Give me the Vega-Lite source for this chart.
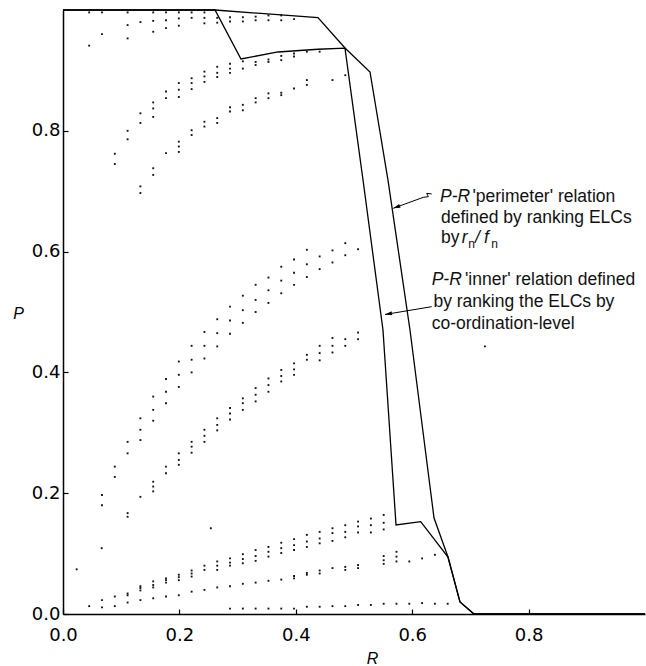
{
  "$schema": "https://vega.github.io/schema/vega-lite/v6.json",
  "width": 582,
  "height": 604,
  "autosize": {"type": "none"},
  "padding": {"left": 63, "top": 10, "right": 1, "bottom": 52},
  "background": "white",
  "config": {
    "view": {"stroke": null},
    "axis": {"grid": false, "domainColor": "#000", "tickColor": "#000", "labelColor": "#000", "titleColor": "#000", "domainWidth": 1.5, "tickWidth": 1.2}
  },
  "datasets": {
    "dots": [
      {"R":0.045,"P":0.996},{"R":0.045,"P":0.941},{"R":0.067,"P":0.996},{"R":0.067,"P":0.960},{"R":0.111,"P":0.996},{"R":0.111,"P":0.975},{"R":0.111,"P":0.953},{"R":0.133,"P":0.980},{"R":0.155,"P":0.996},{"R":0.155,"P":0.982},{"R":0.155,"P":0.964},{"R":0.177,"P":0.996},{"R":0.177,"P":0.983},{"R":0.177,"P":0.970},{"R":0.199,"P":0.996},{"R":0.199,"P":0.986},{"R":0.199,"P":0.974},{"R":0.221,"P":0.996},{"R":0.221,"P":0.987},{"R":0.243,"P":0.996},{"R":0.243,"P":0.987},{"R":0.243,"P":0.978},{"R":0.265,"P":0.987},{"R":0.265,"P":0.979},{"R":0.287,"P":0.988},{"R":0.287,"P":0.981},{"R":0.309,"P":0.988},{"R":0.309,"P":0.981},{"R":0.331,"P":0.989},{"R":0.331,"P":0.983},{"R":0.353,"P":0.991},{"R":0.353,"P":0.983},{"R":0.375,"P":0.991},{"R":0.375,"P":0.983},{"R":0.397,"P":0.985},
      {"R":0.089,"P":0.762},{"R":0.089,"P":0.745},{"R":0.111,"P":0.800},{"R":0.111,"P":0.786},{"R":0.133,"P":0.829},{"R":0.133,"P":0.813},{"R":0.155,"P":0.847},{"R":0.155,"P":0.837},{"R":0.155,"P":0.823},{"R":0.177,"P":0.865},{"R":0.177,"P":0.854},{"R":0.199,"P":0.879},{"R":0.199,"P":0.868},{"R":0.199,"P":0.856},{"R":0.221,"P":0.887},{"R":0.221,"P":0.879},{"R":0.221,"P":0.869},{"R":0.243,"P":0.898},{"R":0.243,"P":0.890},{"R":0.243,"P":0.881},{"R":0.265,"P":0.906},{"R":0.265,"P":0.896},{"R":0.265,"P":0.889},{"R":0.287,"P":0.911},{"R":0.287,"P":0.903},{"R":0.287,"P":0.896},{"R":0.309,"P":0.915},{"R":0.309,"P":0.903},{"R":0.331,"P":0.914},{"R":0.331,"P":0.909},{"R":0.353,"P":0.918},{"R":0.353,"P":0.914},{"R":0.375,"P":0.924},{"R":0.375,"P":0.917},{"R":0.397,"P":0.928},{"R":0.397,"P":0.923},{"R":0.419,"P":0.931},{"R":0.441,"P":0.931},
      {"R":0.133,"P":0.708},{"R":0.133,"P":0.697},{"R":0.155,"P":0.738},{"R":0.155,"P":0.727},{"R":0.177,"P":0.763},{"R":0.199,"P":0.782},{"R":0.199,"P":0.774},{"R":0.199,"P":0.765},{"R":0.221,"P":0.801},{"R":0.221,"P":0.793},{"R":0.243,"P":0.815},{"R":0.243,"P":0.807},{"R":0.265,"P":0.821},{"R":0.265,"P":0.813},{"R":0.287,"P":0.839},{"R":0.287,"P":0.832},{"R":0.309,"P":0.843},{"R":0.309,"P":0.834},{"R":0.331,"P":0.854},{"R":0.331,"P":0.847},{"R":0.353,"P":0.862},{"R":0.353,"P":0.854},{"R":0.375,"P":0.863},{"R":0.375,"P":0.859},{"R":0.397,"P":0.870},{"R":0.419,"P":0.884},{"R":0.419,"P":0.876},{"R":0.463,"P":0.884},{"R":0.485,"P":0.892},
      {"R":0.067,"P":0.197},{"R":0.067,"P":0.180},{"R":0.089,"P":0.244},{"R":0.089,"P":0.227},{"R":0.111,"P":0.285},{"R":0.111,"P":0.266},{"R":0.133,"P":0.324},{"R":0.133,"P":0.305},{"R":0.133,"P":0.288},{"R":0.155,"P":0.360},{"R":0.155,"P":0.338},{"R":0.155,"P":0.320},{"R":0.177,"P":0.389},{"R":0.177,"P":0.368},{"R":0.177,"P":0.349},{"R":0.199,"P":0.418},{"R":0.199,"P":0.396},{"R":0.199,"P":0.376},{"R":0.221,"P":0.444},{"R":0.221,"P":0.421},{"R":0.221,"P":0.400},{"R":0.243,"P":0.467},{"R":0.243,"P":0.444},{"R":0.243,"P":0.423},{"R":0.265,"P":0.488},{"R":0.265,"P":0.465},{"R":0.265,"P":0.443},{"R":0.287,"P":0.509},{"R":0.287,"P":0.486},{"R":0.287,"P":0.464},{"R":0.309,"P":0.527},{"R":0.309,"P":0.503},{"R":0.309,"P":0.482},{"R":0.331,"P":0.545},{"R":0.331,"P":0.520},{"R":0.331,"P":0.500},{"R":0.353,"P":0.557},{"R":0.353,"P":0.536},{"R":0.353,"P":0.515},{"R":0.375,"P":0.575},{"R":0.375,"P":0.552},{"R":0.375,"P":0.531},{"R":0.397,"P":0.587},{"R":0.397,"P":0.565},{"R":0.397,"P":0.545},{"R":0.419,"P":0.603},{"R":0.419,"P":0.579},{"R":0.419,"P":0.558},{"R":0.441,"P":0.592},{"R":0.441,"P":0.571},{"R":0.463,"P":0.602},{"R":0.463,"P":0.582},{"R":0.485,"P":0.614},{"R":0.485,"P":0.594},{"R":0.507,"P":0.604},
      {"R":0.111,"P":0.167},{"R":0.111,"P":0.161},{"R":0.133,"P":0.194},{"R":0.155,"P":0.219},{"R":0.155,"P":0.211},{"R":0.155,"P":0.203},{"R":0.177,"P":0.244},{"R":0.177,"P":0.233},{"R":0.199,"P":0.266},{"R":0.199,"P":0.255},{"R":0.199,"P":0.247},{"R":0.221,"P":0.285},{"R":0.221,"P":0.277},{"R":0.221,"P":0.267},{"R":0.243,"P":0.305},{"R":0.243,"P":0.295},{"R":0.243,"P":0.285},{"R":0.265,"P":0.324},{"R":0.265,"P":0.313},{"R":0.265,"P":0.304},{"R":0.287,"P":0.341},{"R":0.287,"P":0.332},{"R":0.287,"P":0.322},{"R":0.309,"P":0.357},{"R":0.309,"P":0.349},{"R":0.309,"P":0.338},{"R":0.331,"P":0.374},{"R":0.331,"P":0.363},{"R":0.331,"P":0.352},{"R":0.353,"P":0.390},{"R":0.353,"P":0.379},{"R":0.353,"P":0.368},{"R":0.375,"P":0.404},{"R":0.375,"P":0.394},{"R":0.375,"P":0.385},{"R":0.397,"P":0.415},{"R":0.397,"P":0.405},{"R":0.397,"P":0.396},{"R":0.419,"P":0.429},{"R":0.419,"P":0.421},{"R":0.441,"P":0.444},{"R":0.441,"P":0.432},{"R":0.441,"P":0.420},{"R":0.463,"P":0.457},{"R":0.463,"P":0.444},{"R":0.463,"P":0.433},{"R":0.485,"P":0.455},{"R":0.485,"P":0.444},{"R":0.507,"P":0.466},{"R":0.507,"P":0.455},
      {"R":0.067,"P":0.023},{"R":0.089,"P":0.029},{"R":0.111,"P":0.034},{"R":0.111,"P":0.031},{"R":0.133,"P":0.046},{"R":0.133,"P":0.043},{"R":0.133,"P":0.039},{"R":0.155,"P":0.054},{"R":0.155,"P":0.048},{"R":0.155,"P":0.044},{"R":0.177,"P":0.059},{"R":0.177,"P":0.056},{"R":0.177,"P":0.052},{"R":0.199,"P":0.065},{"R":0.199,"P":0.061},{"R":0.199,"P":0.056},{"R":0.221,"P":0.072},{"R":0.221,"P":0.067},{"R":0.221,"P":0.062},{"R":0.243,"P":0.080},{"R":0.243,"P":0.073},{"R":0.265,"P":0.087},{"R":0.265,"P":0.080},{"R":0.265,"P":0.073},{"R":0.287,"P":0.092},{"R":0.287,"P":0.085},{"R":0.287,"P":0.080},{"R":0.309,"P":0.099},{"R":0.309,"P":0.091},{"R":0.309,"P":0.084},{"R":0.331,"P":0.106},{"R":0.331,"P":0.096},{"R":0.331,"P":0.088},{"R":0.353,"P":0.111},{"R":0.353,"P":0.103},{"R":0.353,"P":0.095},{"R":0.375,"P":0.118},{"R":0.375,"P":0.109},{"R":0.375,"P":0.101},{"R":0.397,"P":0.124},{"R":0.397,"P":0.114},{"R":0.397,"P":0.106},{"R":0.419,"P":0.131},{"R":0.419,"P":0.120},{"R":0.419,"P":0.111},{"R":0.441,"P":0.136},{"R":0.441,"P":0.125},{"R":0.441,"P":0.117},{"R":0.463,"P":0.142},{"R":0.463,"P":0.134},{"R":0.463,"P":0.121},{"R":0.485,"P":0.147},{"R":0.485,"P":0.136},{"R":0.485,"P":0.127},{"R":0.507,"P":0.153},{"R":0.507,"P":0.145},{"R":0.507,"P":0.135},{"R":0.529,"P":0.158},{"R":0.529,"P":0.147},{"R":0.529,"P":0.135},{"R":0.551,"P":0.164},{"R":0.551,"P":0.151},{"R":0.551,"P":0.140},
      {"R":0.045,"P":0.013},{"R":0.067,"P":0.011},{"R":0.089,"P":0.013},{"R":0.111,"P":0.019},{"R":0.133,"P":0.023},{"R":0.155,"P":0.026},{"R":0.177,"P":0.029},{"R":0.199,"P":0.031},{"R":0.221,"P":0.037},{"R":0.243,"P":0.040},{"R":0.265,"P":0.044},{"R":0.287,"P":0.046},{"R":0.309,"P":0.050},{"R":0.331,"P":0.052},{"R":0.353,"P":0.055},{"R":0.375,"P":0.057},{"R":0.397,"P":0.063},{"R":0.397,"P":0.059},{"R":0.419,"P":0.068},{"R":0.419,"P":0.065},{"R":0.441,"P":0.072},{"R":0.441,"P":0.067},{"R":0.463,"P":0.076},{"R":0.485,"P":0.078},{"R":0.485,"P":0.073},{"R":0.507,"P":0.081},{"R":0.507,"P":0.076},{"R":0.551,"P":0.096},{"R":0.551,"P":0.089},{"R":0.551,"P":0.083},{"R":0.573,"P":0.103},{"R":0.573,"P":0.095},{"R":0.573,"P":0.087},{"R":0.595,"P":0.087},{"R":0.617,"P":0.092},{"R":0.639,"P":0.098},
      {"R":0.287,"P":0.009},{"R":0.309,"P":0.009},{"R":0.331,"P":0.009},{"R":0.353,"P":0.009},{"R":0.375,"P":0.009},{"R":0.397,"P":0.009},{"R":0.419,"P":0.012},{"R":0.441,"P":0.012},{"R":0.463,"P":0.013},{"R":0.485,"P":0.013},{"R":0.507,"P":0.015},{"R":0.529,"P":0.015},{"R":0.551,"P":0.017},{"R":0.573,"P":0.017},{"R":0.595,"P":0.017},{"R":0.617,"P":0.018},{"R":0.639,"P":0.017},{"R":0.661,"P":0.017},
      {"R":0.0235,"P":0.074},{"R":0.0665,"P":0.109},{"R":0.254,"P":0.142},{"R":0.725,"P":0.443}
    ],
    "curves": [
      {"s":"perimeter","o":1,"R":0,"P":1},{"s":"perimeter","o":2,"R":0.2612,"P":1},{"s":"perimeter","o":3,"R":0.4381,"P":0.9873},{"s":"perimeter","o":4,"R":0.4845,"P":0.937},{"s":"perimeter","o":5,"R":0.5275,"P":0.8974},{"s":"perimeter","o":6,"R":0.5584,"P":0.7185},{"s":"perimeter","o":7,"R":0.5962,"P":0.4702},{"s":"perimeter","o":8,"R":0.6375,"P":0.1589},{"s":"perimeter","o":9,"R":0.6615,"P":0.0944},{"s":"perimeter","o":10,"R":0.6821,"P":0.0199},{"s":"perimeter","o":11,"R":0.7062,"P":0},{"s":"perimeter","o":12,"R":1,"P":0},
      {"s":"inner","o":1,"R":0,"P":1},{"s":"inner","o":2,"R":0.2612,"P":1},{"s":"inner","o":3,"R":0.3058,"P":0.9189},{"s":"inner","o":4,"R":0.3694,"P":0.9305},{"s":"inner","o":5,"R":0.4381,"P":0.935},{"s":"inner","o":6,"R":0.4845,"P":0.937},{"s":"inner","o":7,"R":0.5155,"P":0.7185},{"s":"inner","o":8,"R":0.5498,"P":0.4702},{"s":"inner","o":9,"R":0.5722,"P":0.1474},{"s":"inner","o":10,"R":0.6146,"P":0.1528},{"s":"inner","o":11,"R":0.6615,"P":0.0944},{"s":"inner","o":12,"R":0.6821,"P":0.0199},{"s":"inner","o":13,"R":0.7062,"P":0},{"s":"inner","o":14,"R":1,"P":0}
    ],
    "arrows": [
      {"s":"a","o":1,"R":0.6335,"P":0.6954},{"s":"a","o":2,"R":0.6249,"P":0.6965},{"s":"a","o":3,"R":0.6277,"P":0.6909},{"s":"a","o":4,"R":0.6191,"P":0.6899},{"s":"a","o":5,"R":0.5675,"P":0.6717},
      {"s":"b","o":1,"R":0.6335,"P":0.5088},{"s":"b","o":2,"R":0.5533,"P":0.4959}
    ],
    "normalText": [
      {"R":0.7035,"P":0.6829,"t":"'perimeter' relation"},
      {"R":0.6495,"P":0.6470,"t":"defined by ranking ELCs"},
      {"R":0.6495,"P":0.6139,"t":"by"},
      {"R":0.6907,"P":0.5447,"t":"'inner' relation defined"},
      {"R":0.6365,"P":0.5083,"t":"by ranking the ELCs by"},
      {"R":0.6335,"P":0.4719,"t":"co-ordination-level"}
    ],
    "italicText": [
      {"R":0.6478,"P":0.6829,"t":"P-R"},
      {"R":0.685,"P":0.6139,"t":"r"},
      {"R":0.7079,"P":0.6139,"t":"/"},
      {"R":0.7232,"P":0.6139,"t":"f"},
      {"R":0.6335,"P":0.5447,"t":"P-R"}
    ],
    "subText": [
      {"R":0.6964,"P":0.6065,"t":"n"},
      {"R":0.7358,"P":0.6065,"t":"n"}
    ]
  },
  "encoding": {
    "x": {"field": "R", "type": "quantitative", "scale": {"domain": [0, 1], "nice": false, "zero": false},
      "axis": {"values": [0, 0.2, 0.4, 0.6, 0.8], "format": ".1f", "tickSize": -5, "labelPadding": 17, "labelFont": "DejaVu Sans", "labelFontSize": 18, "labelFlush": false, "labelOverlap": false, "labelBound": false,
        "title": "R", "titleFont": "Liberation Sans", "titleFontStyle": "italic", "titleFontWeight": "normal", "titleFontSize": 16, "titleX": 309, "titleY": 49, "titleAlign": "center", "titleBaseline": "alphabetic"}},
    "y": {"field": "P", "type": "quantitative", "scale": {"domain": [0, 1], "nice": false, "zero": false},
      "axis": {"values": [0, 0.2, 0.4, 0.6, 0.8], "format": ".1f", "tickSize": -5, "labelPadding": 8, "labelFont": "DejaVu Sans", "labelFontSize": 18, "labelFlush": false, "labelOverlap": false, "labelBound": false,
        "title": "P", "titleFont": "Liberation Sans", "titleFontStyle": "italic", "titleFontWeight": "normal", "titleFontSize": 16, "titleAngle": 0, "titleX": -45, "titleY": 308, "titleAlign": "center", "titleBaseline": "alphabetic"}}
  },
  "layer": [
    {
      "data": {"values": [{}]},
      "mark": {"type": "rule", "color": "#000", "strokeWidth": 1.5},
      "encoding": {"x": {"datum": 0}, "x2": {"datum": 1}, "y": {"datum": 1}}
    },
    {
      "data": {"name": "dots"},
      "mark": {"type": "point", "shape": "square", "filled": true, "size": 3.5, "color": "#111", "opacity": 1}
    },
    {
      "data": {"name": "curves"},
      "mark": {"type": "line", "color": "#000", "strokeWidth": 1.3},
      "encoding": {"detail": {"field": "s"}, "order": {"field": "o", "type": "quantitative"}}
    },
    {
      "data": {"name": "arrows"},
      "mark": {"type": "line", "color": "#000", "strokeWidth": 1},
      "encoding": {"detail": {"field": "s"}, "order": {"field": "o", "type": "quantitative"}}
    },
    {
      "data": {"values": [{"R": 0.5675, "P": 0.6717}]},
      "mark": {"type": "point", "shape": "M0,0L-0.3,1L0.3,1Z", "filled": true, "size": 196, "color": "#000", "opacity": 1, "angle": 250}
    },
    {
      "data": {"values": [{"R": 0.5533, "P": 0.4959}]},
      "mark": {"type": "point", "shape": "M0,0L-0.3,1L0.3,1Z", "filled": true, "size": 196, "color": "#000", "opacity": 1, "angle": 260}
    },
    {
      "data": {"name": "normalText"},
      "mark": {"type": "text", "align": "left", "baseline": "alphabetic", "font": "Liberation Sans", "fontSize": 17.5, "color": "#111"},
      "encoding": {"text": {"field": "t"}}
    },
    {
      "data": {"name": "italicText"},
      "mark": {"type": "text", "align": "left", "baseline": "alphabetic", "font": "Liberation Sans", "fontStyle": "italic", "fontSize": 17.5, "color": "#111"},
      "encoding": {"text": {"field": "t"}}
    },
    {
      "data": {"name": "subText"},
      "mark": {"type": "text", "align": "left", "baseline": "alphabetic", "font": "Liberation Sans", "fontSize": 12, "color": "#111"},
      "encoding": {"text": {"field": "t"}}
    }
  ]
}
